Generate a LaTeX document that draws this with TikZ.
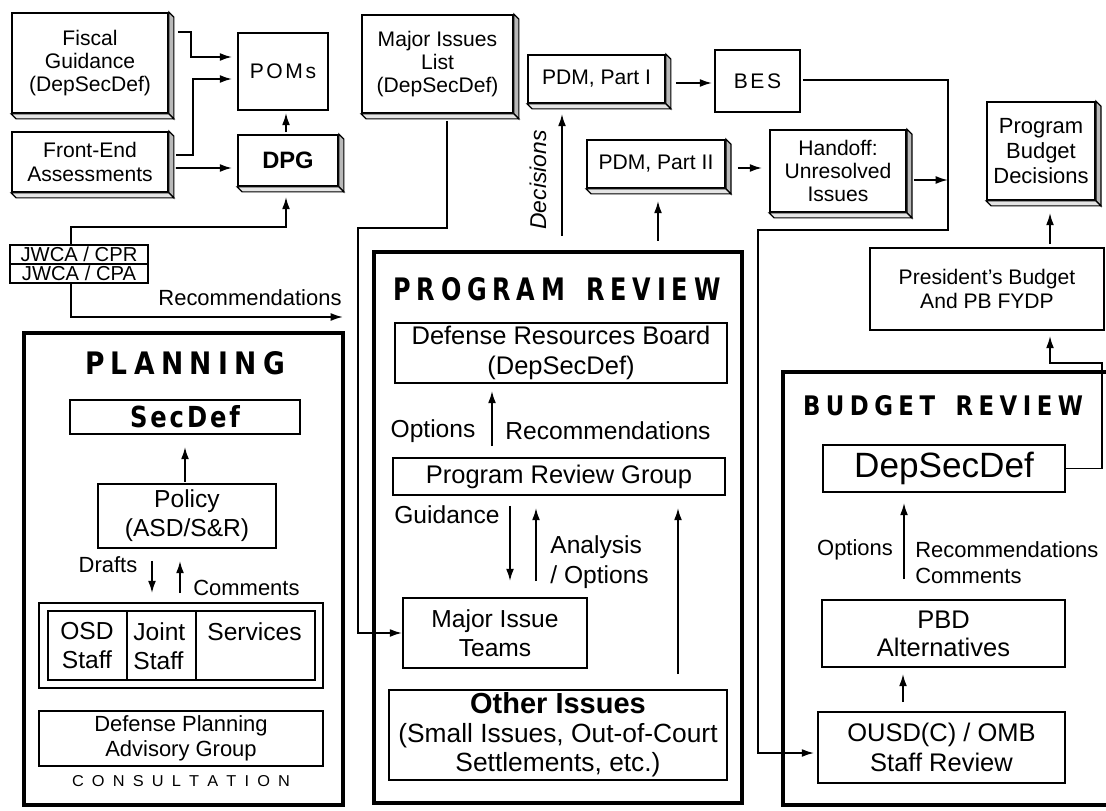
\documentclass[tikz,border=0pt]{standalone}
\usepackage{fontspec}
\setmainfont{Liberation Sans}
\newfontfamily\titlefont{DejaVu Sans}
\usetikzlibrary{arrows.meta,calc}
\newcommand\fsz[2]{\fontsize{#1}{#2}\selectfont}
\newcommand\lsp{\hspace{0.5em}}
\newcommand\tsp{\hspace{0.24em}}
\newcommand\ttlsp{\hspace{0.12em}}
\newcommand\threeD[1]{%
  \filldraw[fill=gray!55,line width=0.7pt] (#1.north east) -- ++(5,5) -- ([shift={(5,5)}]#1.south east) -- (#1.south east) -- cycle;
  \filldraw[fill=gray!20,line width=0.7pt] (#1.south west) -- ++(5,5) -- ([shift={(5,5)}]#1.south east) -- (#1.south east) -- cycle;}
\begin{document}
\begin{tikzpicture}[x=0.02cm,y=-0.02cm,
  sz/.style 2 args={minimum width=#1*0.02cm, minimum height=#2*0.02cm},
  box/.style={draw, line width=1pt, align=center, inner sep=0pt, font=\fsz{12}{13.3}},
  frame/.style={draw, line width=2.5pt, inner sep=0pt},
  conn/.style={line width=1pt},
  arr/.style={conn, -{Latex[length=7pt,width=4.5pt]}},
  lbl/.style={inner sep=0pt, font=\fsz{12.5}{14}, align=left},
  prl/.style={inner sep=0pt, font=\fsz{14}{17}, align=left},
]
\useasboundingbox (0,0) rectangle (1106,811);
\clip (0,0) rectangle (1106,811);

% ---------- top row ----------
\node[box, sz={156}{100}] (fiscal) at (90,63) {Fiscal\\Guidance\\(DepSecDef)};
\node[box, sz={156}{60}] (front) at (90,162) {Front-End\\Assessments};
\node[box, sz={90}{77}] (poms) at (283,71.5) {P\hspace{.12em}O\hspace{.12em}M\hspace{.12em}s};
\node[box, sz={100}{51}, font=\fsz{13.5}{15}\bfseries] (dpg) at (288,160.5) {DPG};
\node[box, sz={151}{98}] (mil) at (437.5,64) {Major Issues\\List\\(DepSecDef)};
\node[box, sz={137}{48}] (pdm1) at (596.5,79) {PDM, Part I};
\node[box, sz={85}{62}] (bes) at (757.5,81) {B\hspace{.12em}E\hspace{.12em}S};
\node[box, sz={138}{48}] (pdm2) at (656,164) {PDM, Part II};
\node[box, sz={136}{82}] (hand) at (838,171) {Handoff:\\Unresolved\\Issues};
\node[box, sz={108}{98}, font=\fsz{12.5}{14}] (pbd) at (1041,151) {Program\\Budget\\Decisions};
\node[box, sz={234}{82}] (pres) at (987,289) {President's Budget\\And PB FYDP};
\node[box, sz={138}{19}, font=\fsz{11.5}{12}] (cpr) at (79,254.5) {JWCA / CPR};
\node[box, sz={138}{19}, font=\fsz{11.5}{12}] (cpa) at (79,273.5) {JWCA / CPA};
\foreach \n in {fiscal,front,dpg,mil,pdm1,pdm2,hand,pbd} {\threeD{\n}}

% ---------- frames ----------
\node[frame, sz={319}{472}] (plan) at (183.5,569) {};
\node[frame, sz={368}{551}] (pr) at (558,527.5) {};
\node[frame, sz={329}{433}] (br) at (947.5,588.5) {};

% ---------- planning ----------
\node[inner sep=0pt] (plantitle) at (185,363) {\resizebox{4cm}{0.46cm}{\titlefont\bfseries P\tsp L\tsp A\tsp N\tsp N\tsp I\tsp N\tsp G}};
\node[box, sz={230}{34}] (secdef) at (185,417) {\resizebox{2.2cm}{0.44cm}{\titlefont\bfseries S\ttlsp e\ttlsp c\ttlsp D\ttlsp e\ttlsp f}};
\node[box, sz={178}{64}, font=\fsz{14}{16.5}] (policy) at (187,516) {Policy\\(ASD/S\&R)};
\node[lbl] (drafts) at (108,565) {Drafts};
\node[lbl, anchor=west] (comments) at (193,588) {Comments};
\node[box, sz={284}{85}] (staff) at (181,645.5) {};
\node[box, sz={267}{69}] (staffin) at (181.5,645.5) {};
\draw[line width=1pt] (127,611) -- (127,680) (196,611) -- (196,680);
\node[inner sep=0pt, align=center, anchor=north, font=\fsz{14}{16.5}] (osd) at (87,622) {OSD\\Staff};
\node[inner sep=0pt, align=left, anchor=north west, font=\fsz{14}{16.5}] (joint) at (133,622) {Joint\\Staff};
\node[inner sep=0pt, align=left, anchor=north west, font=\fsz{14}{16.5}] (serv) at (207,622) {Services};
\node[box, sz={284}{55}, font=\fsz{12.5}{14}] (dpag) at (181,738.5) {Defense Planning\\Advisory Group};
\node[inner sep=0pt] (consult) at (181,781) {\resizebox{4.36cm}{0.22cm}{\fsz{9}{9}C\lsp O\lsp N\lsp S\lsp U\lsp L\lsp T\lsp A\lsp T\lsp I\lsp O\lsp N}};

\draw[arr] ($(policy.north)+(-2,-1)$) -- ($(secdef.south)+(0,12)$);
\draw[arr] ($(policy.south)+(-35,12)$) -- ($(staff.north)+(-29,-9)$);
\draw[arr] ($(staff.north)+(-1,-9)$) -- ($(policy.south)+(-7,12)$);

% ---------- program review ----------
\node[inner sep=0pt] (prtitle) at (557,289) {\resizebox{6.54cm}{0.46cm}{\titlefont\bfseries P\tsp R\tsp O\tsp G\tsp R\tsp A\tsp M\hspace{0.9em}R\tsp E\tsp V\tsp I\tsp E\tsp W}};
\node[box, sz={332}{60}, font=\fsz{14.5}{17}] (drb) at (561,353) {Defense Resources Board\\(DepSecDef)};
\node[prl] (opt1) at (433,431) {Options};
\node[prl] (rec2) at (608,431) {Recommendations};
\node[box, sz={332}{37}, font=\fsz{14.5}{17}] (prg) at (559,476.5) {Program Review Group};
\node[prl] (guid) at (447,515) {Guidance};
\node[prl, anchor=west] (anal) at (550,562) {Analysis\\/ Options};
\node[box, sz={184}{70}, font=\fsz{14}{16.5}] (mit) at (495,633) {Major Issue\\Teams};
\node[box, sz={338}{90}, font=\fsz{15}{16.5}] (other) at (558,735) {{\bfseries\fsz{16.5}{19}Other Issues}\\(Small Issues, Out-of-Court\\Settlements, etc.)};

\draw[arr] ($(prg.north)+(-67,-11)$) -- ($(drb.south)+(-69,7)$);
\draw[arr] ($(prg.south)+(-49,10)$) -- ($(mit.north)+(15,-16)$);
\draw[arr] ($(mit.north)+(41,-16)$) -- ($(prg.south)+(-23,12)$);
\draw[arr] ($(other.north)+(120,-15)$) -- ($(prg.south)+(119,12)$);

% ---------- budget review ----------
\node[inner sep=0pt] (brtitle) at (943,406) {\resizebox{5.6cm}{0.4cm}{\titlefont\bfseries B\tsp U\tsp D\tsp G\tsp E\tsp T\hspace{0.9em}R\tsp E\tsp V\tsp I\tsp E\tsp W}};
\node[box, sz={242}{47}, font=\fsz{20}{22}] (bdep) at (944,468.5) {DepSecDef};
\node[lbl] (opt2) at (855,550) {Options};
\node[lbl, anchor=west] (rec3) at (915,550) {Recommendations};
\node[lbl, anchor=west] (comm2) at (915,576) {Comments};
\node[box, sz={243}{67}, font=\fsz{14.5}{16}] (alt) at (943.5,633.5) {PBD\\Alternatives};
\node[box, sz={247}{71}, font=\fsz{14.5}{17}] (ousd) at (941.5,747.5) {OUSD(C) / OMB\\Staff Review};

\draw[arr] ($(alt.north)+(-39.5,-20)$) -- ($(bdep.south)+(-40,10)$);
\draw[arr] ($(ousd.north)+(-38.5,-9)$) -- ($(alt.south)+(-40.5,6)$);

% ---------- connectors ----------
\draw[arr] ($(fiscal.north east)+(9,20)$) -- ++(13,0) |- ($(poms.west)+(-5,-14.5)$);
\draw[arr] ($(front.east)+(7,-7)$) -- ++(17,0) |- ($(poms.west)+(-5,7.5)$);
\draw[arr] ($(front.east)+(7,6)$) -- ($(dpg.west)+(-5,7.5)$);
\draw[arr] ($(dpg.north)+(-2,-2)$) -- ($(poms.south)+(3,2)$);
\draw[arr] ($(cpr.north west)+(62,0)$) -- ++(0,-17) -| ($(dpg.south)+(-2,10)$);
\coordinate (recend) at (343,317);
\draw[arr] ($(cpa.south west)+(62,0)$) |- (recend);
\node[lbl] (rec1) at (250,298) {Recommendations};

\draw[arr] ($(mil.south)+(9.5,7)$) |- ($(pr.north west)+(-14,-22)$) |- (mit.west);

\draw[arr] ($(pr.north)+(4,-14)$) -- ($(pdm1.south)+(-34.5,10)$);
\node[inner sep=0pt, rotate=90, font=\fsz{13}{14}\itshape] (dec) at (538,180) {Decisions};
\draw[arr] ($(pr.north)+(100,-9)$) -- ($(pdm2.south)+(2,12)$);
\draw[arr] ($(pdm1.east)+(10,4)$) -- ($(bes.west)+(-2,2)$);
\draw[arr] ($(pdm2.east)+(12,4)$) -- ($(hand.west)+(-7,-3)$);
\coordinate (bline) at (948,180);
\draw[arr] ($(hand.east)+(7,9)$) -- (bline);
\coordinate (b1) at (948,230);
\coordinate (b2) at (758,230);
\draw[arr] ($(bes.east)+(2,-1)$) -| (b1) -- (b2) |- ($(ousd.west)+(-3,5.5)$);
\coordinate (c1) at (1102,363);
\draw[arr] (bdep.east) -| (c1) -| ($(pres.south)+(63,5)$);
\draw[arr] ($(pres.north)+(63,-3)$) -- ($(pbd.south)+(9,12)$);
\end{tikzpicture}
\end{document}
